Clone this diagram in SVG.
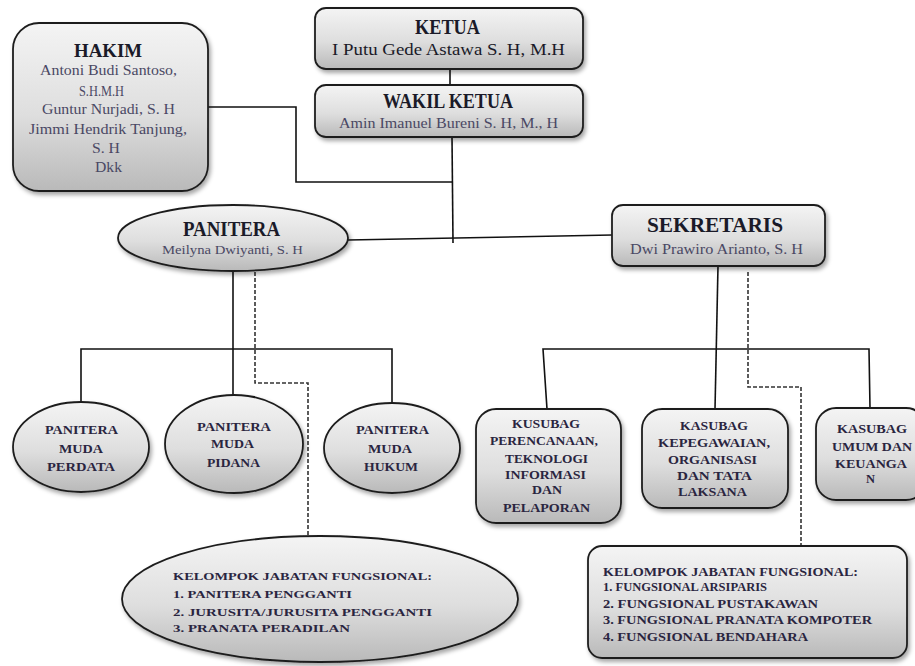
<svg xmlns="http://www.w3.org/2000/svg" width="915" height="666" viewBox="0 0 915 666">
<defs>
<linearGradient id="g" x1="0" y1="0" x2="0" y2="1">
<stop offset="0" stop-color="#f4f4f4"/>
<stop offset="0.55" stop-color="#dedede"/>
<stop offset="1" stop-color="#b9b9b9"/>
</linearGradient>
<filter id="sh" x="-10%" y="-10%" width="125%" height="130%">
<feDropShadow dx="2" dy="3" stdDeviation="2" flood-color="#000" flood-opacity="0.35"/>
</filter>
</defs>
<style>
.n{fill:url(#g);stroke:#1e1e1e;stroke-width:1.8;filter:url(#sh)}
text{font-family:"Liberation Serif","Times New Roman",serif}
.t{font-weight:bold;fill:#1a1a28}
.s{fill:#4a4864}
.k{fill:#1a1a28}
.b{font-weight:bold;fill:#2a2540}
.c{fill:none;stroke:#111;stroke-width:1.6}
.d{fill:none;stroke:#333;stroke-width:1.6;stroke-dasharray:4 2}
</style>
<rect width="915" height="666" fill="#fff"/>
<g id="connectors">
<polyline class="c" points="208,107 296,107 296,182 452,182"/>
<line class="c" x1="450" y1="69" x2="450" y2="85"/>
<line class="c" x1="452" y1="137" x2="453" y2="243"/>
<line class="c" x1="348" y1="240" x2="612" y2="235"/>
<line class="c" x1="233" y1="272" x2="233" y2="395"/>
<polyline class="c" points="81,402 81,349 392,349 392,403"/>
<polyline class="d" points="255,272 255,383 308,383 308,535"/>
<line class="c" x1="718" y1="266" x2="715" y2="409"/>
<polyline class="c" points="547,409 543,349 869,349 870,408"/>
<polyline class="d" points="748,272 748,387 801,387 801,545"/>
</g>
<g id="hakim">
<rect class="n" x="13" y="23" width="195" height="168" rx="26"/>
<text class="t" x="74" y="57" font-size="19" textLength="68" lengthAdjust="spacingAndGlyphs">HAKIM</text>
<text class="s" x="40" y="75" font-size="15" textLength="137" lengthAdjust="spacingAndGlyphs">Antoni Budi Santoso,</text>
<text class="s" x="79" y="96" font-size="15" textLength="45" lengthAdjust="spacingAndGlyphs">S.H.M.H</text>
<text class="s" x="42" y="114" font-size="15" textLength="133" lengthAdjust="spacingAndGlyphs">Guntur Nurjadi, S. H</text>
<text class="s" x="29" y="134" font-size="15" textLength="158" lengthAdjust="spacingAndGlyphs">Jimmi Hendrik Tanjung,</text>
<text class="s" x="92" y="153" font-size="15" textLength="28" lengthAdjust="spacingAndGlyphs">S. H</text>
<text class="s" x="95" y="172" font-size="15" textLength="27" lengthAdjust="spacingAndGlyphs">Dkk</text>
</g>
<g id="ketua">
<rect class="n" x="315" y="8" width="268" height="61" rx="11"/>
<text class="t" x="415" y="34" font-size="20" textLength="65" lengthAdjust="spacingAndGlyphs">KETUA</text>
<text class="k" x="332" y="55" font-size="17" textLength="233" lengthAdjust="spacingAndGlyphs">I Putu Gede Astawa S. H, M.H</text>
</g>
<g id="wakil">
<rect class="n" x="315" y="85" width="268" height="52" rx="11"/>
<text class="t" x="383" y="108" font-size="20" textLength="130" lengthAdjust="spacingAndGlyphs">WAKIL KETUA</text>
<text class="s" x="339" y="128" font-size="14" textLength="219" lengthAdjust="spacingAndGlyphs">Amin Imanuel Bureni S. H, M., H</text>
</g>
<g id="panitera">
<ellipse class="n" cx="233" cy="238" rx="115" ry="33"/>
<text class="t" x="183" y="236" font-size="20" textLength="97" lengthAdjust="spacingAndGlyphs">PANITERA</text>
<text class="s" x="162" y="254" font-size="13" textLength="141" lengthAdjust="spacingAndGlyphs">Meilyna Dwiyanti, S. H</text>
</g>
<g id="sekretaris">
<rect class="n" x="612" y="205" width="213" height="61" rx="11"/>
<text class="t" x="647" y="232" font-size="21" textLength="136" lengthAdjust="spacingAndGlyphs">SEKRETARIS</text>
<text class="s" x="630" y="254" font-size="14" textLength="173" lengthAdjust="spacingAndGlyphs">Dwi Prawiro Arianto, S. H</text>
</g>
<g id="perdata">
<ellipse class="n" cx="81" cy="447" rx="68" ry="45"/>
<text class="b" x="45" y="434" font-size="12" textLength="73" lengthAdjust="spacingAndGlyphs">PANITERA</text>
<text class="b" x="59" y="453" font-size="12" textLength="44" lengthAdjust="spacingAndGlyphs">MUDA</text>
<text class="b" x="47" y="471" font-size="12" textLength="68" lengthAdjust="spacingAndGlyphs">PERDATA</text>
</g>
<g id="pidana">
<ellipse class="n" cx="234" cy="444" rx="69" ry="49"/>
<text class="b" x="197" y="431" font-size="12" textLength="74" lengthAdjust="spacingAndGlyphs">PANITERA</text>
<text class="b" x="211" y="448" font-size="12" textLength="43" lengthAdjust="spacingAndGlyphs">MUDA</text>
<text class="b" x="207" y="467" font-size="12" textLength="53" lengthAdjust="spacingAndGlyphs">PIDANA</text>
</g>
<g id="hukum">
<ellipse class="n" cx="392" cy="448" rx="68" ry="45"/>
<text class="b" x="356" y="434" font-size="12" textLength="73" lengthAdjust="spacingAndGlyphs">PANITERA</text>
<text class="b" x="368" y="453" font-size="12" textLength="44" lengthAdjust="spacingAndGlyphs">MUDA</text>
<text class="b" x="364" y="471" font-size="12" textLength="54" lengthAdjust="spacingAndGlyphs">HUKUM</text>
</g>
<g id="fungsional-panitera">
<ellipse class="n" cx="320" cy="599" rx="198" ry="63"/>
<text class="b" x="173" y="580" font-size="11" textLength="259" lengthAdjust="spacingAndGlyphs">KELOMPOK  JABATAN FUNGSIONAL:</text>
<text class="b" x="173" y="598" font-size="11" textLength="179" lengthAdjust="spacingAndGlyphs">1.  PANITERA PENGGANTI</text>
<text class="b" x="173" y="616" font-size="11" textLength="259" lengthAdjust="spacingAndGlyphs">2.  JURUSITA/JURUSITA  PENGGANTI</text>
<text class="b" x="173" y="632" font-size="11" textLength="177" lengthAdjust="spacingAndGlyphs">3.  PRANATA  PERADILAN</text>
</g>
<g id="kusubag-perencanaan">
<rect class="n" x="476" y="409" width="145" height="114" rx="20"/>
<text class="b" x="512" y="428" font-size="13" textLength="68" lengthAdjust="spacingAndGlyphs">KUSUBAG</text>
<text class="b" x="490" y="445" font-size="13" textLength="108" lengthAdjust="spacingAndGlyphs">PERENCANAAN,</text>
<text class="b" x="505" y="463" font-size="13" textLength="83" lengthAdjust="spacingAndGlyphs">TEKNOLOGI</text>
<text class="b" x="505" y="479" font-size="13" textLength="81" lengthAdjust="spacingAndGlyphs">INFORMASI</text>
<text class="b" x="532" y="494" font-size="13" textLength="30" lengthAdjust="spacingAndGlyphs">DAN</text>
<text class="b" x="503" y="512" font-size="13" textLength="87" lengthAdjust="spacingAndGlyphs">PELAPORAN</text>
</g>
<g id="kasubag-kepegawaian">
<rect class="n" x="642" y="409" width="146" height="99" rx="20"/>
<text class="b" x="680" y="430" font-size="13" textLength="68" lengthAdjust="spacingAndGlyphs">KASUBAG</text>
<text class="b" x="658" y="447" font-size="13" textLength="112" lengthAdjust="spacingAndGlyphs">KEPEGAWAIAN,</text>
<text class="b" x="668" y="464" font-size="13" textLength="89" lengthAdjust="spacingAndGlyphs">ORGANISASI</text>
<text class="b" x="677" y="480" font-size="13" textLength="75" lengthAdjust="spacingAndGlyphs">DAN TATA</text>
<text class="b" x="678" y="496" font-size="13" textLength="69" lengthAdjust="spacingAndGlyphs">LAKSANA</text>
</g>
<g id="kasubag-umum">
<rect class="n" x="816" y="408" width="110" height="92" rx="20"/>
<text class="b" x="837" y="433" font-size="13" textLength="70" lengthAdjust="spacingAndGlyphs">KASUBAG</text>
<text class="b" x="832" y="451" font-size="13" textLength="80" lengthAdjust="spacingAndGlyphs">UMUM DAN</text>
<text class="b" x="835" y="468" font-size="13" textLength="72" lengthAdjust="spacingAndGlyphs">KEUANGA</text>
<text class="b" x="866" y="483" font-size="13" textLength="9" lengthAdjust="spacingAndGlyphs">N</text>
</g>
<g id="fungsional-sekretaris">
<rect class="n" x="588" y="546" width="319" height="112" rx="14"/>
<text class="b" x="603" y="576" font-size="12" textLength="255" lengthAdjust="spacingAndGlyphs">KELOMPOK JABATAN FUNGSIONAL:</text>
<text class="b" x="603" y="591" font-size="12" textLength="164" lengthAdjust="spacingAndGlyphs">1. FUNGSIONAL ARSIPARIS</text>
<text class="b" x="603" y="608" font-size="12" textLength="215" lengthAdjust="spacingAndGlyphs">2. FUNGSIONAL PUSTAKAWAN</text>
<text class="b" x="603" y="624" font-size="12" textLength="269" lengthAdjust="spacingAndGlyphs">3. FUNGSIONAL PRANATA KOMPOTER</text>
<text class="b" x="603" y="641" font-size="12" textLength="205" lengthAdjust="spacingAndGlyphs">4. FUNGSIONAL BENDAHARA</text>
</g>
</svg>
